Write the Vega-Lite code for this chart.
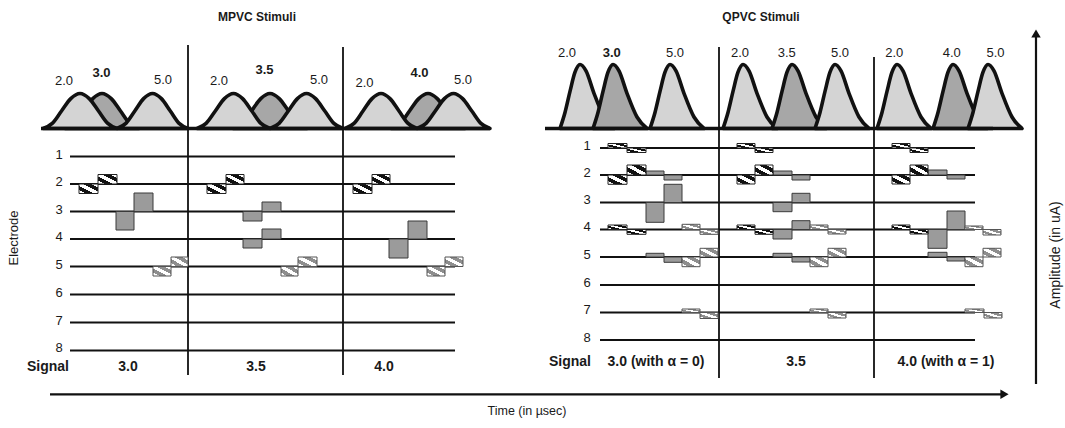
{
"$schema": "https://vega.github.io/schema/vega-lite/v6.json",
"width": 1065, "height": 428, "padding": 0,
"autosize": {"type": "fit", "contains": "padding"},
"config": {"view": {"stroke": null}, "font": "Liberation Sans"},
"datasets": {
"bumps": [
{"b":"LA1","k":"hatched","z":2,"x":43,"y":128.5},{"b":"LA1","k":"hatched","z":2,"x":52.25,"y":123.4},{"b":"LA1","k":"hatched","z":2,"x":61.5,"y":111},{"b":"LA1","k":"hatched","z":2,"x":70.75,"y":98.6},{"b":"LA1","k":"hatched","z":2,"x":80,"y":93.5},{"b":"LA1","k":"hatched","z":2,"x":89.25,"y":98.6},{"b":"LA1","k":"hatched","z":2,"x":98.5,"y":111},{"b":"LA1","k":"hatched","z":2,"x":107.75,"y":123.4},{"b":"LA1","k":"hatched","z":2,"x":117,"y":128.5},
{"b":"LG1","k":"solid","z":1,"x":65,"y":128.5},{"b":"LG1","k":"solid","z":1,"x":74.25,"y":123.4},{"b":"LG1","k":"solid","z":1,"x":83.5,"y":111},{"b":"LG1","k":"solid","z":1,"x":92.75,"y":98.6},{"b":"LG1","k":"solid","z":1,"x":102,"y":93.5},{"b":"LG1","k":"solid","z":1,"x":111.25,"y":98.6},{"b":"LG1","k":"solid","z":1,"x":120.5,"y":111},{"b":"LG1","k":"solid","z":1,"x":129.75,"y":123.4},{"b":"LG1","k":"solid","z":1,"x":139,"y":128.5},
{"b":"LB1","k":"hatched","z":2,"x":117,"y":128.5},{"b":"LB1","k":"hatched","z":2,"x":125.9,"y":123.4},{"b":"LB1","k":"hatched","z":2,"x":134.8,"y":111},{"b":"LB1","k":"hatched","z":2,"x":143.6,"y":98.6},{"b":"LB1","k":"hatched","z":2,"x":152.5,"y":93.5},{"b":"LB1","k":"hatched","z":2,"x":161.4,"y":98.6},{"b":"LB1","k":"hatched","z":2,"x":170.3,"y":111},{"b":"LB1","k":"hatched","z":2,"x":179.1,"y":123.4},{"b":"LB1","k":"hatched","z":2,"x":188,"y":128.5},
{"b":"LA2","k":"hatched","z":2,"x":197,"y":128.5},{"b":"LA2","k":"hatched","z":2,"x":206.1,"y":123.4},{"b":"LA2","k":"hatched","z":2,"x":215.3,"y":111},{"b":"LA2","k":"hatched","z":2,"x":224.4,"y":98.6},{"b":"LA2","k":"hatched","z":2,"x":233.5,"y":93.5},{"b":"LA2","k":"hatched","z":2,"x":242.6,"y":98.6},{"b":"LA2","k":"hatched","z":2,"x":251.8,"y":111},{"b":"LA2","k":"hatched","z":2,"x":260.9,"y":123.4},{"b":"LA2","k":"hatched","z":2,"x":270,"y":128.5},
{"b":"LG2","k":"solid","z":1,"x":233,"y":128.5},{"b":"LG2","k":"solid","z":1,"x":242.25,"y":123.4},{"b":"LG2","k":"solid","z":1,"x":251.5,"y":111},{"b":"LG2","k":"solid","z":1,"x":260.75,"y":98.6},{"b":"LG2","k":"solid","z":1,"x":270,"y":93.5},{"b":"LG2","k":"solid","z":1,"x":279.25,"y":98.6},{"b":"LG2","k":"solid","z":1,"x":288.5,"y":111},{"b":"LG2","k":"solid","z":1,"x":297.75,"y":123.4},{"b":"LG2","k":"solid","z":1,"x":307,"y":128.5},
{"b":"LB2","k":"hatched","z":2,"x":270,"y":128.5},{"b":"LB2","k":"hatched","z":2,"x":279.1,"y":123.4},{"b":"LB2","k":"hatched","z":2,"x":288.3,"y":111},{"b":"LB2","k":"hatched","z":2,"x":297.4,"y":98.6},{"b":"LB2","k":"hatched","z":2,"x":306.5,"y":93.5},{"b":"LB2","k":"hatched","z":2,"x":315.6,"y":98.6},{"b":"LB2","k":"hatched","z":2,"x":324.8,"y":111},{"b":"LB2","k":"hatched","z":2,"x":333.9,"y":123.4},{"b":"LB2","k":"hatched","z":2,"x":343,"y":128.5},
{"b":"LA3","k":"hatched","z":2,"x":345,"y":128.5},{"b":"LA3","k":"hatched","z":2,"x":354,"y":123.4},{"b":"LA3","k":"hatched","z":2,"x":363,"y":111},{"b":"LA3","k":"hatched","z":2,"x":372,"y":98.6},{"b":"LA3","k":"hatched","z":2,"x":381,"y":93.5},{"b":"LA3","k":"hatched","z":2,"x":390,"y":98.6},{"b":"LA3","k":"hatched","z":2,"x":399,"y":111},{"b":"LA3","k":"hatched","z":2,"x":408,"y":123.4},{"b":"LA3","k":"hatched","z":2,"x":417,"y":128.5},
{"b":"LG3","k":"solid","z":1,"x":391,"y":128.5},{"b":"LG3","k":"solid","z":1,"x":400.25,"y":123.4},{"b":"LG3","k":"solid","z":1,"x":409.5,"y":111},{"b":"LG3","k":"solid","z":1,"x":418.75,"y":98.6},{"b":"LG3","k":"solid","z":1,"x":428,"y":93.5},{"b":"LG3","k":"solid","z":1,"x":437.25,"y":98.6},{"b":"LG3","k":"solid","z":1,"x":446.5,"y":111},{"b":"LG3","k":"solid","z":1,"x":455.75,"y":123.4},{"b":"LG3","k":"solid","z":1,"x":465,"y":128.5},
{"b":"LB3","k":"hatched","z":2,"x":417,"y":128.5},{"b":"LB3","k":"hatched","z":2,"x":426.1,"y":123.4},{"b":"LB3","k":"hatched","z":2,"x":435.3,"y":111},{"b":"LB3","k":"hatched","z":2,"x":444.4,"y":98.6},{"b":"LB3","k":"hatched","z":2,"x":453.5,"y":93.5},{"b":"LB3","k":"hatched","z":2,"x":462.6,"y":98.6},{"b":"LB3","k":"hatched","z":2,"x":471.8,"y":111},{"b":"LB3","k":"hatched","z":2,"x":480.9,"y":123.4},{"b":"LB3","k":"hatched","z":2,"x":490,"y":128.5},
{"b":"RA1","k":"hatched","z":1,"x":560,"y":128.5},{"b":"RA1","k":"hatched","z":1,"x":565,"y":112.5},{"b":"RA1","k":"hatched","z":1,"x":570,"y":91.4},{"b":"RA1","k":"hatched","z":1,"x":575,"y":72.2},{"b":"RA1","k":"hatched","z":1,"x":580,"y":64.5},{"b":"RA1","k":"hatched","z":1,"x":586,"y":70.9},{"b":"RA1","k":"hatched","z":1,"x":594,"y":93.3},{"b":"RA1","k":"hatched","z":1,"x":604,"y":117},{"b":"RA1","k":"hatched","z":1,"x":614,"y":128.5},
{"b":"RG1","k":"solid","z":2,"x":593,"y":128.5},{"b":"RG1","k":"solid","z":2,"x":598,"y":112.5},{"b":"RG1","k":"solid","z":2,"x":603,"y":91.4},{"b":"RG1","k":"solid","z":2,"x":608,"y":72.2},{"b":"RG1","k":"solid","z":2,"x":613,"y":64.5},{"b":"RG1","k":"solid","z":2,"x":619,"y":70.9},{"b":"RG1","k":"solid","z":2,"x":627,"y":93.3},{"b":"RG1","k":"solid","z":2,"x":637,"y":117},{"b":"RG1","k":"solid","z":2,"x":647,"y":128.5},
{"b":"RB1","k":"hatched","z":3,"x":650,"y":128.5},{"b":"RB1","k":"hatched","z":3,"x":655,"y":112.5},{"b":"RB1","k":"hatched","z":3,"x":660,"y":91.4},{"b":"RB1","k":"hatched","z":3,"x":665,"y":72.2},{"b":"RB1","k":"hatched","z":3,"x":670,"y":64.5},{"b":"RB1","k":"hatched","z":3,"x":676,"y":70.9},{"b":"RB1","k":"hatched","z":3,"x":684,"y":93.3},{"b":"RB1","k":"hatched","z":3,"x":694,"y":117},{"b":"RB1","k":"hatched","z":3,"x":704,"y":128.5},
{"b":"RA2","k":"hatched","z":1,"x":723,"y":128.5},{"b":"RA2","k":"hatched","z":1,"x":728,"y":112.5},{"b":"RA2","k":"hatched","z":1,"x":733,"y":91.4},{"b":"RA2","k":"hatched","z":1,"x":738,"y":72.2},{"b":"RA2","k":"hatched","z":1,"x":743,"y":64.5},{"b":"RA2","k":"hatched","z":1,"x":749,"y":70.9},{"b":"RA2","k":"hatched","z":1,"x":757,"y":93.3},{"b":"RA2","k":"hatched","z":1,"x":767,"y":117},{"b":"RA2","k":"hatched","z":1,"x":777,"y":128.5},
{"b":"RG2","k":"solid","z":2,"x":772,"y":128.5},{"b":"RG2","k":"solid","z":2,"x":777,"y":112.5},{"b":"RG2","k":"solid","z":2,"x":782,"y":91.4},{"b":"RG2","k":"solid","z":2,"x":787,"y":72.2},{"b":"RG2","k":"solid","z":2,"x":792,"y":64.5},{"b":"RG2","k":"solid","z":2,"x":798,"y":70.9},{"b":"RG2","k":"solid","z":2,"x":806,"y":93.3},{"b":"RG2","k":"solid","z":2,"x":816,"y":117},{"b":"RG2","k":"solid","z":2,"x":826,"y":128.5},
{"b":"RB2","k":"hatched","z":3,"x":815,"y":128.5},{"b":"RB2","k":"hatched","z":3,"x":820,"y":112.5},{"b":"RB2","k":"hatched","z":3,"x":825,"y":91.4},{"b":"RB2","k":"hatched","z":3,"x":830,"y":72.2},{"b":"RB2","k":"hatched","z":3,"x":835,"y":64.5},{"b":"RB2","k":"hatched","z":3,"x":841,"y":70.9},{"b":"RB2","k":"hatched","z":3,"x":849,"y":93.3},{"b":"RB2","k":"hatched","z":3,"x":859,"y":117},{"b":"RB2","k":"hatched","z":3,"x":869,"y":128.5},
{"b":"RA3","k":"hatched","z":1,"x":877,"y":128.5},{"b":"RA3","k":"hatched","z":1,"x":882,"y":112.5},{"b":"RA3","k":"hatched","z":1,"x":887,"y":91.4},{"b":"RA3","k":"hatched","z":1,"x":892,"y":72.2},{"b":"RA3","k":"hatched","z":1,"x":897,"y":64.5},{"b":"RA3","k":"hatched","z":1,"x":903,"y":70.9},{"b":"RA3","k":"hatched","z":1,"x":911,"y":93.3},{"b":"RA3","k":"hatched","z":1,"x":921,"y":117},{"b":"RA3","k":"hatched","z":1,"x":931,"y":128.5},
{"b":"RG3","k":"solid","z":2,"x":933,"y":128.5},{"b":"RG3","k":"solid","z":2,"x":938,"y":112.5},{"b":"RG3","k":"solid","z":2,"x":943,"y":91.4},{"b":"RG3","k":"solid","z":2,"x":948,"y":72.2},{"b":"RG3","k":"solid","z":2,"x":953,"y":64.5},{"b":"RG3","k":"solid","z":2,"x":959,"y":70.9},{"b":"RG3","k":"solid","z":2,"x":967,"y":93.3},{"b":"RG3","k":"solid","z":2,"x":977,"y":117},{"b":"RG3","k":"solid","z":2,"x":987,"y":128.5},
{"b":"RB3","k":"hatched","z":3,"x":968,"y":128.5},{"b":"RB3","k":"hatched","z":3,"x":973,"y":112.5},{"b":"RB3","k":"hatched","z":3,"x":978,"y":91.4},{"b":"RB3","k":"hatched","z":3,"x":983,"y":72.2},{"b":"RB3","k":"hatched","z":3,"x":988,"y":64.5},{"b":"RB3","k":"hatched","z":3,"x":994,"y":70.9},{"b":"RB3","k":"hatched","z":3,"x":1002,"y":93.3},{"b":"RB3","k":"hatched","z":3,"x":1012,"y":117},{"b":"RB3","k":"hatched","z":3,"x":1022,"y":128.5}
],
"pulses": [
{"k":"dark","x":79,"x2":98,"y":184,"y2":193.5},{"k":"dark","x":98,"x2":117,"y":174.5,"y2":184},{"k":"dark","x":207,"x2":226,"y":184,"y2":193.5},{"k":"dark","x":226,"x2":244,"y":174.5,"y2":184},{"k":"dark","x":353,"x2":372,"y":184,"y2":193.5},{"k":"dark","x":372,"x2":390,"y":174.5,"y2":184},
{"k":"gray","x":116,"x2":134,"y":211.5,"y2":230},{"k":"gray","x":134,"x2":153,"y":193,"y2":211.5},{"k":"gray","x":243,"x2":262,"y":211.5,"y2":221},{"k":"gray","x":262,"x2":281,"y":202,"y2":211.5},{"k":"gray","x":243,"x2":262,"y":239,"y2":248},{"k":"gray","x":262,"x2":281,"y":229,"y2":239},{"k":"gray","x":389,"x2":408,"y":239,"y2":258},{"k":"gray","x":408,"x2":427,"y":221,"y2":239},
{"k":"light","x":153,"x2":171,"y":266.5,"y2":276},{"k":"light","x":171,"x2":188,"y":257,"y2":266.5},{"k":"light","x":281,"x2":298,"y":266.5,"y2":276},{"k":"light","x":298,"x2":317,"y":257,"y2":266.5},{"k":"light","x":427,"x2":445,"y":266.5,"y2":276},{"k":"light","x":445,"x2":463,"y":257,"y2":266.5},
{"k":"dark","x":608,"x2":627,"y":143.5,"y2":148},{"k":"dark","x":627,"x2":646,"y":148,"y2":152.5},{"k":"dark","x":608,"x2":627,"y":175,"y2":184.3},{"k":"dark","x":627,"x2":646,"y":165,"y2":175},{"k":"dark","x":608,"x2":627,"y":225,"y2":229.5},{"k":"dark","x":627,"x2":646,"y":229.5,"y2":234.3},
{"k":"gray","x":646,"x2":664,"y":171,"y2":175},{"k":"gray","x":664,"x2":682,"y":175,"y2":180},{"k":"gray","x":646,"x2":664,"y":202.5,"y2":222.3},{"k":"gray","x":664,"x2":682,"y":184.3,"y2":202.5},{"k":"gray","x":646,"x2":664,"y":253.3,"y2":257},{"k":"gray","x":664,"x2":682,"y":257,"y2":262.3},
{"k":"light","x":682,"x2":700,"y":224.3,"y2":229.5},{"k":"light","x":700,"x2":718,"y":229.5,"y2":234.3},{"k":"light","x":682,"x2":700,"y":257,"y2":266.7},{"k":"light","x":700,"x2":718,"y":248.3,"y2":257},{"k":"light","x":682,"x2":700,"y":309,"y2":312.5},{"k":"light","x":700,"x2":718,"y":312.5,"y2":318.5},
{"k":"dark","x":737,"x2":755,"y":143.5,"y2":148},{"k":"dark","x":755,"x2":773,"y":148,"y2":152.5},{"k":"dark","x":737,"x2":755,"y":175,"y2":184},{"k":"dark","x":755,"x2":773,"y":165,"y2":175},{"k":"dark","x":737,"x2":755,"y":225,"y2":229.5},{"k":"dark","x":755,"x2":773,"y":229.5,"y2":234.3},
{"k":"gray","x":773,"x2":792,"y":171,"y2":175},{"k":"gray","x":792,"x2":810,"y":175,"y2":180},{"k":"gray","x":773,"x2":792,"y":202.5,"y2":211.7},{"k":"gray","x":792,"x2":810,"y":193.3,"y2":202.5},{"k":"gray","x":773,"x2":792,"y":229.5,"y2":239},{"k":"gray","x":792,"x2":810,"y":220.7,"y2":229.5},{"k":"gray","x":773,"x2":792,"y":253.3,"y2":257},{"k":"gray","x":792,"x2":810,"y":257,"y2":262},
{"k":"light","x":810,"x2":828,"y":225,"y2":229.5},{"k":"light","x":828,"x2":846,"y":229.5,"y2":234},{"k":"light","x":810,"x2":828,"y":257,"y2":266.7},{"k":"light","x":828,"x2":846,"y":248.3,"y2":257},{"k":"light","x":810,"x2":828,"y":309,"y2":312.5},{"k":"light","x":828,"x2":846,"y":312.5,"y2":318},
{"k":"dark","x":892,"x2":910,"y":143.5,"y2":148},{"k":"dark","x":910,"x2":928,"y":148,"y2":152.5},{"k":"dark","x":892,"x2":910,"y":175,"y2":184},{"k":"dark","x":910,"x2":928,"y":165,"y2":175},{"k":"dark","x":892,"x2":910,"y":225,"y2":229.5},{"k":"dark","x":910,"x2":928,"y":229.5,"y2":234},
{"k":"gray","x":928,"x2":947,"y":170,"y2":175},{"k":"gray","x":947,"x2":965,"y":175,"y2":179},{"k":"gray","x":928,"x2":947,"y":229.5,"y2":248.3},{"k":"gray","x":947,"x2":965,"y":211,"y2":229.5},{"k":"gray","x":928,"x2":947,"y":252.3,"y2":257},{"k":"gray","x":947,"x2":965,"y":257,"y2":261},
{"k":"light","x":965,"x2":983,"y":226,"y2":229.5},{"k":"light","x":983,"x2":1001,"y":229.5,"y2":235},{"k":"light","x":965,"x2":983,"y":257,"y2":266.7},{"k":"light","x":983,"x2":1001,"y":248.3,"y2":257},{"k":"light","x":965,"x2":984,"y":309,"y2":312.5},{"k":"light","x":984,"x2":1002,"y":312.5,"y2":318}
],
"lines": [
{"k":"grid","x":70,"x2":455,"y":156.5,"y2":156.5},{"k":"grid","x":70,"x2":455,"y":184,"y2":184},{"k":"grid","x":70,"x2":455,"y":211.5,"y2":211.5},{"k":"grid","x":70,"x2":455,"y":239,"y2":239},{"k":"grid","x":70,"x2":455,"y":266.5,"y2":266.5},{"k":"grid","x":70,"x2":455,"y":294.5,"y2":294.5},{"k":"grid","x":70,"x2":455,"y":322.5,"y2":322.5},{"k":"grid","x":70,"x2":455,"y":350.5,"y2":350.5},
{"k":"grid","x":600,"x2":975,"y":148,"y2":148},{"k":"grid","x":600,"x2":975,"y":175,"y2":175},{"k":"grid","x":600,"x2":975,"y":202.5,"y2":202.5},{"k":"grid","x":600,"x2":975,"y":229.5,"y2":229.5},{"k":"grid","x":600,"x2":975,"y":257,"y2":257},{"k":"grid","x":600,"x2":975,"y":285,"y2":285},{"k":"grid","x":600,"x2":975,"y":312.5,"y2":312.5},{"k":"grid","x":600,"x2":975,"y":340,"y2":340},
{"k":"grid","x":188,"x2":188,"y":45,"y2":375},{"k":"grid","x":343,"x2":343,"y":47,"y2":375},{"k":"grid","x":719,"x2":719,"y":47,"y2":378},{"k":"grid","x":874,"x2":874,"y":57,"y2":378},
{"k":"base","x":41,"x2":490,"y":128.5,"y2":128.5},{"k":"base","x":545,"x2":993,"y":128.5,"y2":128.5},
{"k":"arrow","x":50,"x2":1001,"y":394.3,"y2":394.3},{"k":"arrow","x":1036,"x2":1036,"y":384,"y2":37}
],
"heads": [
{"s":"triangle-right","x":1004.5,"y":394.3},{"s":"triangle-up","x":1036,"y":33.5}
],
"texts": [
{"g":"title","t":"MPVC Stimuli","x":257,"y":17},{"g":"title","t":"QPVC Stimuli","x":761,"y":17},
{"g":"bump","t":"2.0","x":64,"y":80.5},{"g":"bumpBold","t":"3.0","x":101.5,"y":73},{"g":"bump","t":"5.0","x":163,"y":80},
{"g":"bump","t":"2.0","x":219,"y":80.5},{"g":"bumpBold","t":"3.5","x":264.5,"y":70},{"g":"bump","t":"5.0","x":319,"y":80},
{"g":"bump","t":"2.0","x":364.5,"y":83},{"g":"bumpBold","t":"4.0","x":419.5,"y":73},{"g":"bump","t":"5.0","x":463,"y":80},
{"g":"bump","t":"2.0","x":567,"y":52.7},{"g":"bumpBold","t":"3.0","x":611.7,"y":52.7},{"g":"bump","t":"5.0","x":675,"y":52.7},
{"g":"bump","t":"2.0","x":740,"y":52.7},{"g":"bump","t":"3.5","x":786.7,"y":52.7},{"g":"bump","t":"5.0","x":840,"y":52.7},
{"g":"bump","t":"2.0","x":894.3,"y":52.7},{"g":"bump","t":"4.0","x":951.7,"y":52.7},{"g":"bump","t":"5.0","x":995.5,"y":52.7},
{"g":"elec","t":"1","x":59,"y":154.5},{"g":"elec","t":"2","x":59,"y":182},{"g":"elec","t":"3","x":59,"y":209.5},{"g":"elec","t":"4","x":59,"y":237},{"g":"elec","t":"5","x":59,"y":264.5},{"g":"elec","t":"6","x":59,"y":292.5},{"g":"elec","t":"7","x":59,"y":320.5},{"g":"elec","t":"8","x":59,"y":348.3},
{"g":"elec","t":"1","x":587,"y":145.8},{"g":"elec","t":"2","x":587,"y":172.8},{"g":"elec","t":"3","x":587,"y":200.3},{"g":"elec","t":"4","x":587,"y":227.3},{"g":"elec","t":"5","x":587,"y":254.8},{"g":"elec","t":"6","x":587,"y":282.8},{"g":"elec","t":"7","x":587,"y":310.3},{"g":"elec","t":"8","x":587,"y":337.8},
{"g":"signal","t":"Signal","x":48,"y":367},{"g":"signal","t":"3.0","x":128,"y":367},{"g":"signal","t":"3.5","x":256,"y":367},{"g":"signal","t":"4.0","x":384,"y":367},
{"g":"signal","t":"Signal","x":570,"y":362},{"g":"signal","t":"3.0 (with α = 0)","x":656,"y":362},{"g":"signal","t":"3.5","x":796,"y":362},{"g":"signal","t":"4.0 (with α = 1)","x":946,"y":362},
{"g":"axisH","t":"Time (in µsec)","x":527,"y":411},
{"g":"axisV","t":"Electrode","x":14,"y":238},{"g":"axisV2","t":"Amplitude (in uA)","x":1056,"y":255}
]
},
"layer": [
{"data":{"name":"lines"},"transform":[{"filter":"datum.k === 'grid'"}],
 "mark":{"type":"rule","stroke":"#111111","strokeWidth":1.8},
 "encoding":{"x":{"field":"x","type":"quantitative","scale":{"domain":[0,1065],"nice":false,"zero":false},"axis":null},
  "x2":{"field":"x2"},
  "y":{"field":"y","type":"quantitative","scale":{"domain":[0,428],"reverse":true,"nice":false,"zero":false},"axis":null},
  "y2":{"field":"y2"}}},
{"data":{"name":"lines"},"transform":[{"filter":"datum.k === 'arrow'"}],
 "mark":{"type":"rule","stroke":"#111111","strokeWidth":2.2},
 "encoding":{"x":{"field":"x","type":"quantitative","axis":null},"x2":{"field":"x2"},
  "y":{"field":"y","type":"quantitative","axis":null},"y2":{"field":"y2"}}},
{"data":{"name":"heads"},
 "mark":{"type":"point","filled":true,"fill":"#111111","stroke":null,"size":90,"opacity":1},
 "encoding":{"x":{"field":"x","type":"quantitative","axis":null},
  "y":{"field":"y","type":"quantitative","axis":null},
  "shape":{"field":"s","type":"nominal","scale":{"domain":["triangle-right","triangle-up"],"range":["triangle-right","triangle-up"]},"legend":null}}},
{"data":{"name":"bumps"},"transform":[{"filter":"datum.z === 1"}],
 "mark":{"type":"area","orient":"vertical","interpolate":"monotone","stroke":"#111111","strokeWidth":3.6,"strokeJoin":"round","opacity":1},
 "encoding":{"x":{"field":"x","type":"quantitative","axis":null},
  "y":{"field":"y","type":"quantitative","axis":null},"y2":{"datum":128.5},
  "detail":{"field":"b","type":"nominal"},
  "fill":{"field":"k","type":"nominal","scale":{"domain":["hatched","solid"],"range":["#d4d4d4","#a7a7a7"]},"legend":null}}},
{"data":{"name":"bumps"},"transform":[{"filter":"datum.z === 2"}],
 "mark":{"type":"area","orient":"vertical","interpolate":"monotone","stroke":"#111111","strokeWidth":3.6,"strokeJoin":"round","opacity":1},
 "encoding":{"x":{"field":"x","type":"quantitative","axis":null},
  "y":{"field":"y","type":"quantitative","axis":null},"y2":{"datum":128.5},
  "detail":{"field":"b","type":"nominal"},
  "fill":{"field":"k","type":"nominal","scale":{"domain":["hatched","solid"],"range":["#d4d4d4","#a7a7a7"]},"legend":null}}},
{"data":{"name":"bumps"},"transform":[{"filter":"datum.z === 3"}],
 "mark":{"type":"area","orient":"vertical","interpolate":"monotone","stroke":"#111111","strokeWidth":3.6,"strokeJoin":"round","opacity":1},
 "encoding":{"x":{"field":"x","type":"quantitative","axis":null},
  "y":{"field":"y","type":"quantitative","axis":null},"y2":{"datum":128.5},
  "detail":{"field":"b","type":"nominal"},
  "fill":{"field":"k","type":"nominal","scale":{"domain":["hatched","solid"],"range":["#d4d4d4","#a7a7a7"]},"legend":null}}},
{"data":{"name":"lines"},"transform":[{"filter":"datum.k === 'base'"}],
 "mark":{"type":"rule","stroke":"#111111","strokeWidth":3.6},
 "encoding":{"x":{"field":"x","type":"quantitative","axis":null},"x2":{"field":"x2"},
  "y":{"field":"y","type":"quantitative","axis":null},"y2":{"field":"y2"}}},
{"data":{"name":"pulses"},"transform":[{"filter":"datum.k === 'gray'"}],
 "mark":{"type":"rect","fill":"#9b9b9b","stroke":"#3a3a3a","strokeWidth":1},
 "encoding":{"x":{"field":"x","type":"quantitative","axis":null},"x2":{"field":"x2"},
  "y":{"field":"y","type":"quantitative","axis":null},"y2":{"field":"y2"}}},
{"data":{"name":"pulses"},"transform":[{"filter":"datum.k === 'dark'"}],
 "mark":{"type":"rect","stroke":"#222222","strokeWidth":1,
  "fill":{"gradient":"linear","x1":0,"y1":1,"x2":1,"y2":0,"stops":[{"offset":0,"color":"#ffffff"},{"offset":0.18,"color":"#ffffff"},{"offset":0.18,"color":"#111111"},{"offset":0.4,"color":"#111111"},{"offset":0.4,"color":"#ffffff"},{"offset":0.6,"color":"#ffffff"},{"offset":0.6,"color":"#111111"},{"offset":0.82,"color":"#111111"},{"offset":0.82,"color":"#ffffff"},{"offset":1,"color":"#ffffff"}]}},
 "encoding":{"x":{"field":"x","type":"quantitative","axis":null},"x2":{"field":"x2"},
  "y":{"field":"y","type":"quantitative","axis":null},"y2":{"field":"y2"}}},
{"data":{"name":"pulses"},"transform":[{"filter":"datum.k === 'light'"}],
 "mark":{"type":"rect","stroke":"#555555","strokeWidth":1,
  "fill":{"gradient":"linear","x1":0,"y1":1,"x2":1,"y2":0,"stops":[{"offset":0,"color":"#ffffff"},{"offset":0.18,"color":"#ffffff"},{"offset":0.18,"color":"#8e8e8e"},{"offset":0.4,"color":"#8e8e8e"},{"offset":0.4,"color":"#ffffff"},{"offset":0.6,"color":"#ffffff"},{"offset":0.6,"color":"#8e8e8e"},{"offset":0.82,"color":"#8e8e8e"},{"offset":0.82,"color":"#ffffff"},{"offset":1,"color":"#ffffff"}]}},
 "encoding":{"x":{"field":"x","type":"quantitative","axis":null},"x2":{"field":"x2"},
  "y":{"field":"y","type":"quantitative","axis":null},"y2":{"field":"y2"}}},
{"data":{"name":"texts"},"transform":[{"filter":"datum.g === 'title'"}],
 "mark":{"type":"text","fontSize":12,"fontWeight":"bold","align":"center","baseline":"middle","fill":"#1a1a1a"},
 "encoding":{"x":{"field":"x","type":"quantitative","axis":null},"y":{"field":"y","type":"quantitative","axis":null},"text":{"field":"t"}}},
{"data":{"name":"texts"},"transform":[{"filter":"datum.g === 'bump'"}],
 "mark":{"type":"text","fontSize":13,"align":"center","baseline":"middle","fill":"#1a1a1a"},
 "encoding":{"x":{"field":"x","type":"quantitative","axis":null},"y":{"field":"y","type":"quantitative","axis":null},"text":{"field":"t"}}},
{"data":{"name":"texts"},"transform":[{"filter":"datum.g === 'bumpBold'"}],
 "mark":{"type":"text","fontSize":13,"fontWeight":"bold","align":"center","baseline":"middle","fill":"#1a1a1a"},
 "encoding":{"x":{"field":"x","type":"quantitative","axis":null},"y":{"field":"y","type":"quantitative","axis":null},"text":{"field":"t"}}},
{"data":{"name":"texts"},"transform":[{"filter":"datum.g === 'elec'"}],
 "mark":{"type":"text","fontSize":13,"align":"center","baseline":"middle","fill":"#1a1a1a"},
 "encoding":{"x":{"field":"x","type":"quantitative","axis":null},"y":{"field":"y","type":"quantitative","axis":null},"text":{"field":"t"}}},
{"data":{"name":"texts"},"transform":[{"filter":"datum.g === 'signal'"}],
 "mark":{"type":"text","fontSize":14,"fontWeight":"bold","align":"center","baseline":"middle","fill":"#1a1a1a"},
 "encoding":{"x":{"field":"x","type":"quantitative","axis":null},"y":{"field":"y","type":"quantitative","axis":null},"text":{"field":"t"}}},
{"data":{"name":"texts"},"transform":[{"filter":"datum.g === 'axisH'"}],
 "mark":{"type":"text","fontSize":12.5,"align":"center","baseline":"middle","fill":"#1a1a1a"},
 "encoding":{"x":{"field":"x","type":"quantitative","axis":null},"y":{"field":"y","type":"quantitative","axis":null},"text":{"field":"t"}}},
{"data":{"name":"texts"},"transform":[{"filter":"datum.g === 'axisV'"}],
 "mark":{"type":"text","fontSize":13,"angle":270,"align":"center","baseline":"middle","fill":"#1a1a1a"},
 "encoding":{"x":{"field":"x","type":"quantitative","axis":null},"y":{"field":"y","type":"quantitative","axis":null},"text":{"field":"t"}}},
{"data":{"name":"texts"},"transform":[{"filter":"datum.g === 'axisV2'"}],
 "mark":{"type":"text","fontSize":14,"angle":270,"align":"center","baseline":"middle","fill":"#1a1a1a"},
 "encoding":{"x":{"field":"x","type":"quantitative","axis":null},"y":{"field":"y","type":"quantitative","axis":null},"text":{"field":"t"}}}
]
}
